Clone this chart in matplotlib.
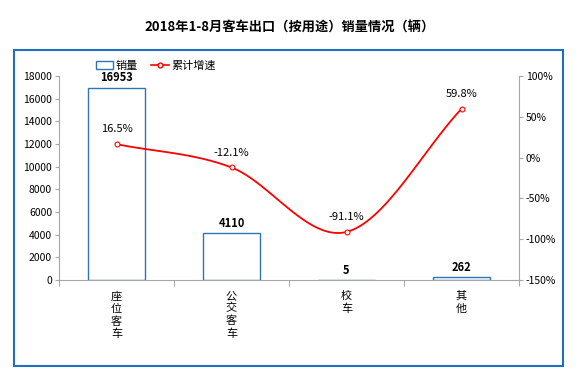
import numpy as np
import matplotlib
matplotlib.use('Agg')
from matplotlib import pyplot as plt
from matplotlib.patches import Rectangle
from matplotlib.lines import Line2D

plt.rcParams['font.family'] = ['Noto Sans CJK SC', 'DejaVu Sans']

categories = ['座位客车', '公交客车', '校车', '其他']
sales = [16953, 4110, 5, 262]
growth = [16.5, -12.1, -91.1, 59.8]  # percent
left_ticks = list(range(0, 18001, 2000))
right_ticks = [-150, -100, -50, 0, 50, 100]

BLUE = '#2e75b6'
RED = '#ff0000'
GRAY = '#a6a6a6'


def catmull_rom(xs, ys, n=40):
    # smooth curve through the points, like excel's smoothed line
    xs = np.asarray(xs, float)
    ys = np.asarray(ys, float)
    px = np.concatenate([[2 * xs[0] - xs[1]], xs, [2 * xs[-1] - xs[-2]]])
    py = np.concatenate([[2 * ys[0] - ys[1]], ys, [2 * ys[-1] - ys[-2]]])
    outx, outy = [], []
    t = np.linspace(0, 1, n)
    for i in range(1, len(px) - 2):
        for arr, out in ((px, outx), (py, outy)):
            p0, p1, p2, p3 = arr[i - 1], arr[i], arr[i + 1], arr[i + 2]
            out.extend(0.5 * ((2 * p1) + (-p0 + p2) * t
                              + (2 * p0 - 5 * p1 + 4 * p2 - p3) * t ** 2
                              + (-p0 + 3 * p1 - 3 * p2 + p3) * t ** 3))
    return np.array(outx), np.array(outy)


fig = plt.figure(figsize=(5.8, 3.81), dpi=100)
fig.patches.append(Rectangle((14 / 580, 1 - 366 / 381), (563 - 14) / 580, (366 - 50) / 381,
                             transform=fig.transFigure, fill=False, edgecolor='#1f6fc0', lw=1.5))

fig.text(0.5, 1 - 28 / 381, '2018年1-8月客车出口（按用途）销量情况（辆）',
         ha='center', va='center', fontsize=9.5, fontweight='bold')

ax = fig.add_axes([59 / 580, 1 - 280 / 381, (519 - 59) / 580, (280 - 76) / 381])
x = np.arange(len(categories))
ax.bar(x, sales, width=0.5, facecolor='white', edgecolor=BLUE, linewidth=1.0, zorder=2)
for xi, v in zip(x, sales):
    ax.text(xi, v + 300, str(v), ha='center', va='bottom', fontsize=8, fontweight='bold')

ax.set_xlim(-0.5, len(categories) - 0.5)
ax.set_ylim(0, 18000)
ax.set_yticks(left_ticks)
ax.set_yticklabels([str(t) for t in left_ticks], fontsize=7.5)
ax.set_xticks(np.arange(-0.5, len(categories), 1))
ax.set_xticklabels([])
ax.set_xticks(x, minor=True)
ax.set_xticklabels(['\n'.join(c) for c in categories], minor=True, fontsize=8, va='top',
                   linespacing=1.25)
ax.tick_params(axis='x', which='minor', length=0, pad=8)
ax.tick_params(axis='x', which='major', length=4, color=GRAY)
ax.tick_params(axis='y', length=3, color=GRAY, pad=2)
for s in ['top', 'right']:
    ax.spines[s].set_visible(False)
for s in ['left', 'bottom']:
    ax.spines[s].set_color(GRAY)

ax2 = ax.twinx()
ax2.set_ylim(-150, 100)
ax2.set_yticks(right_ticks)
ax2.set_yticklabels(['%d%%' % t for t in right_ticks], fontsize=7.5)
ax2.tick_params(axis='y', length=3, color=GRAY, pad=2)
for s in ['top', 'left', 'bottom']:
    ax2.spines[s].set_visible(False)
ax2.spines['right'].set_color(GRAY)

sx, sy = catmull_rom(x, growth)
ax2.plot(sx, sy, color=RED, lw=1.3, zorder=3)
ax2.plot(x, growth, 'o', ms=3.5, mfc='white', mec=RED, mew=0.8, zorder=4)
for xi, g in zip(x, growth):
    ax2.text(xi, g + 12, '%.1f%%' % g, ha='center', va='bottom', fontsize=8)

handles = [Rectangle((0, 0), 1, 1, facecolor='white', edgecolor=BLUE, lw=1.0),
           Line2D([], [], color=RED, lw=1.2, marker='o', ms=3.5, mfc='white', mec=RED)]
fig.legend(handles, ['销量', '累计增速'], loc='center left', bbox_to_anchor=(90 / 580, 1 - 66 / 381),
           ncol=2, frameon=False, fontsize=8, handlelength=1.6, handletextpad=0.2,
           columnspacing=1.2, borderpad=0)

fig.savefig('out.png', dpi=100)
